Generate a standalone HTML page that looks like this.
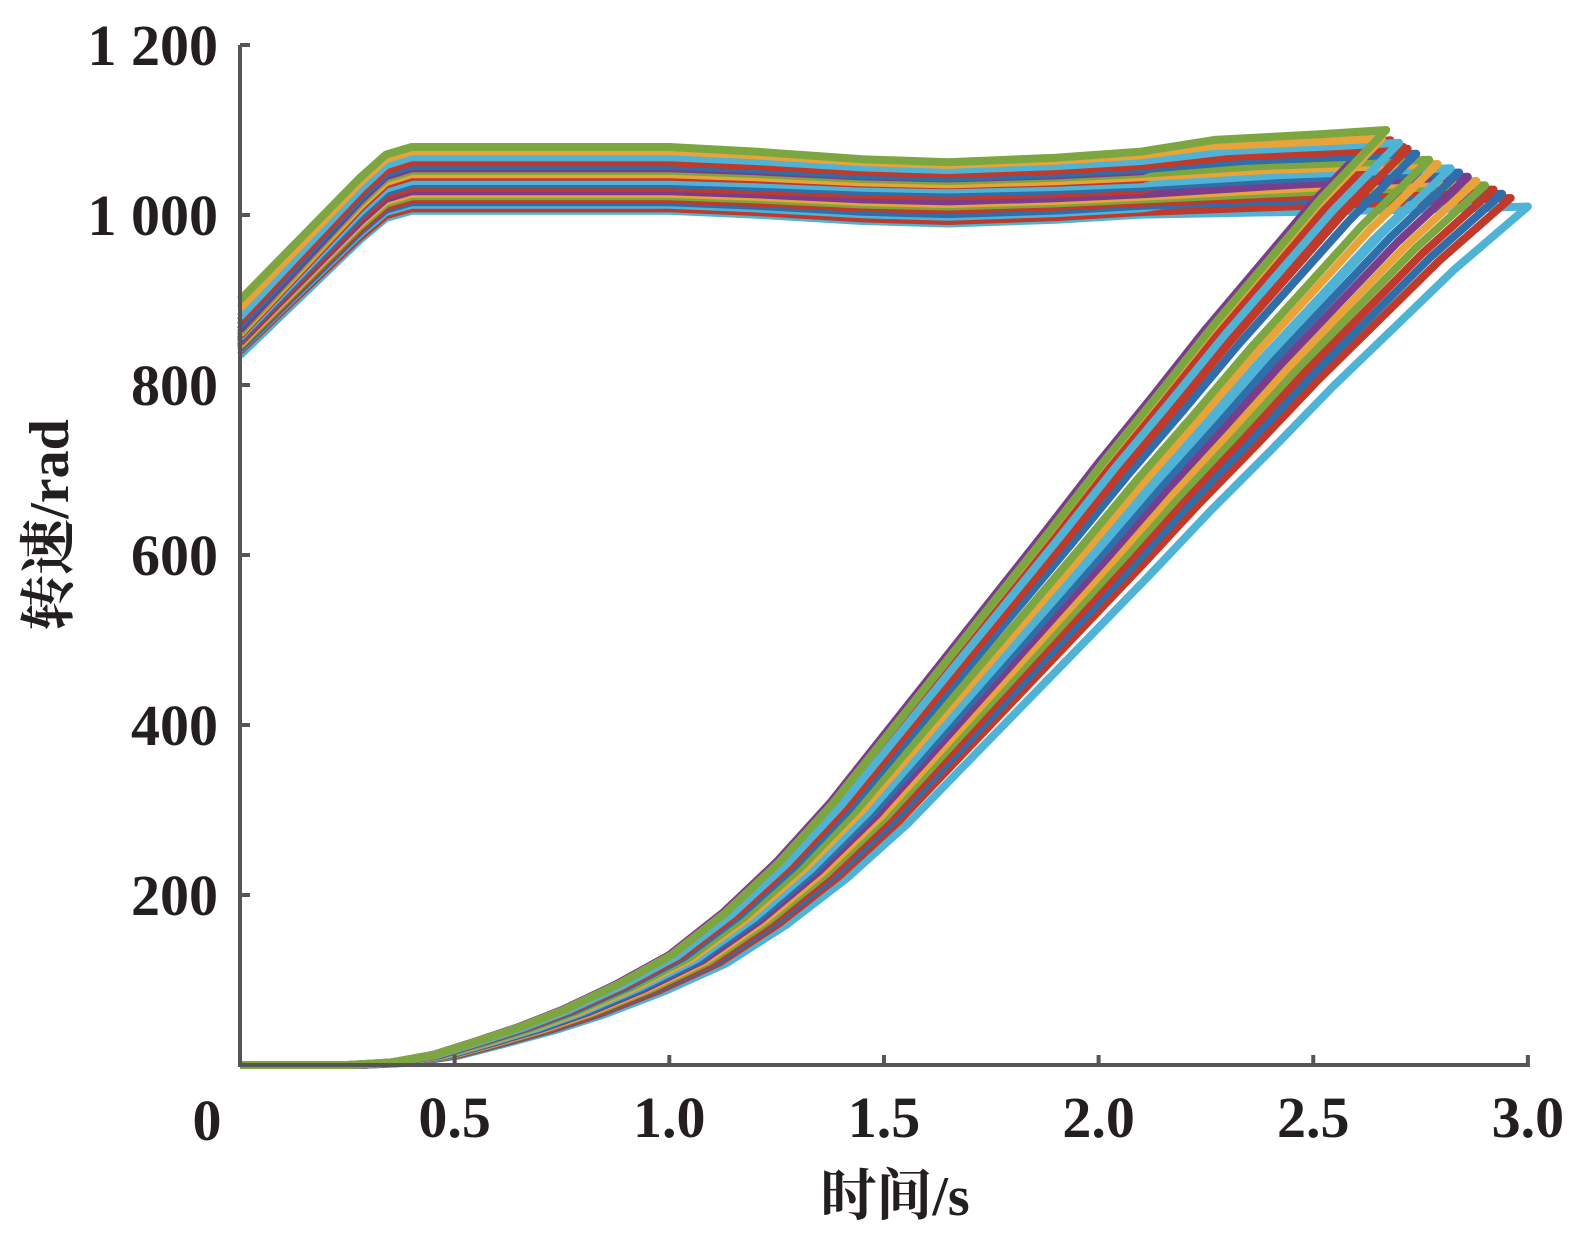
<!DOCTYPE html>
<html><head><meta charset="utf-8">
<style>
html,body{margin:0;padding:0;background:#fff;overflow:hidden;width:1587px;height:1251px;}
svg{display:block;}
text{font-family:"Liberation Serif","Noto Serif CJK SC",serif;font-weight:bold;fill:#231f20;}
</style></head>
<body>
<svg id="chart" width="1587" height="1251" viewBox="0 0 1587 1251">
<g id="series"></g>
<g id="axes"></g>
</svg>
<script>
// data
const yTicks = [0, 200, 400, 600, 800, 1000, 1200];
const yTickLabels = ["", "200", "400", "600", "800", "1 000", "1 200"];
const xTicks = [0.5, 1.0, 1.5, 2.0, 2.5, 3.0];
const xTickLabels = ["0.5", "1.0", "1.5", "2.0", "2.5", "3.0"];
const seriesColors = ["#7ca640","#e8a33a","#4fb3d6","#c0392b","#2f6ea8","#7b3c8c","#7ca640","#e8a33a","#c0392b","#4fb3d6","#2f6ea8","#c0392b","#7b3c8c","#e8a33a","#7ca640","#c0392b","#2f6ea8","#4fb3d6","#c0392b","#4fb3d6"];
const seriesStart = [900,890,880,875,870,865,862,860,858,856,854,852,850,848,846,845,843,842,840,835];
const seriesPlateau = [1080,1075,1068,1062,1058,1055,1052,1048,1045,1040,1036,1032,1028,1025,1022,1018,1015,1012,1008,1005];
const seriesDip = [-18,-16,-15,-14,-14,-12,-12,-12,-10,-10,-10,-10,-12,-12,-12,-12,-14,-14,-15,-15];
const seriesEndTime = [2.67,2.66,2.70,2.72,2.74,2.65,2.77,2.79,2.68,2.82,2.84,2.71,2.86,2.88,2.90,2.92,2.94,2.80,2.96,3.00];
const seriesEndValue = [1100,1090,1085,1078,1072,1095,1065,1060,1088,1055,1050,1080,1045,1040,1035,1030,1025,1048,1020,1010];
const lowerTimes = [0,0.25,0.35,0.45,0.55,0.65,0.75,0.875,1.0,1.125,1.25,1.375,1.5,1.625,1.75,1.875,2.0,2.125,2.25,2.375,2.5,2.65];
const lowerValues = [0,0,3,12,28,45,65,95,130,180,240,310,390,470,550,630,712,790,870,945,1020,1100];

const X0=240, XS=429.3, Y0=1065, YS=0.85;
const xs = t => X0 + t*XS;
const ys = v => Y0 - v*YS;
const NS="http://www.w3.org/2000/svg";
const gS=document.getElementById('series');
const gA=document.getElementById('axes');

for(let i=seriesColors.length-1;i>=0;i--){
  const te=seriesEndTime[i], ev=seriesEndValue[i], sc=te/2.65, vs=ev/1100;
  let d="";
  lowerTimes.forEach((t,k)=>{d+=(k?"L":"M")+xs(t*sc).toFixed(1)+","+ys(lowerValues[k]*vs).toFixed(1);});
  const P=seriesPlateau[i], dp=seriesDip[i], S=seriesStart[i];
  const up=[[te,ev],[te-0.15,P+dp*0.1+(ev-P)*0.85],[te-0.4,P+dp*0.2+(ev-P)*0.6],[2.1,P+dp*0.3],[1.9,P+dp*0.7],[1.65,P+dp],[1.45,P+dp*0.8],[1.2,P+dp*0.3],[1.0,P],[0.4,P],[0.34,P-(P-S)*0.05],[0.28,P-(P-S)*0.2],[0,S]];
  up.forEach(p=>{d+="L"+xs(p[0]).toFixed(1)+","+ys(p[1]).toFixed(1);});
  const p=document.createElementNS(NS,'path');
  p.setAttribute('d',d);p.setAttribute('fill','none');p.setAttribute('stroke',seriesColors[i]);p.setAttribute('stroke-width','8');p.setAttribute('stroke-linejoin','round');
  
  
  gS.appendChild(p);
}

function line(x1,y1,x2,y2,name){
  const l=document.createElementNS(NS,'line');
  l.setAttribute('x1',x1);l.setAttribute('y1',y1);l.setAttribute('x2',x2);l.setAttribute('y2',y2);
  l.setAttribute('stroke','#555');l.setAttribute('stroke-width','4');
  
  
  gA.appendChild(l);
}
function text(x,y,s,anchor,name,size){
  const t=document.createElementNS(NS,'text');
  t.setAttribute('x',x);t.setAttribute('y',y);t.setAttribute('text-anchor',anchor);t.setAttribute('font-size',size||58);
  t.textContent=s;
  
  
  gA.appendChild(t);
  return t;
}
line(X0,ys(1200),X0,Y0+2,'y-axis-line');
line(X0-2,Y0,xs(3.0)+2,Y0,'x-axis-line');
yTicks.forEach((v,k)=>{
  if(v>0){line(X0,ys(v),X0+10,ys(v),'y-tick');}
  if(yTickLabels[k]) text(218,ys(v)+20,yTickLabels[k],'end','y-tick-label');
});
xTicks.forEach((v,k)=>{
  line(xs(v),Y0-10,xs(v),Y0,'x-tick');
  text(xs(v),1137,xTickLabels[k],'middle','x-tick-label');
});
text(207,1140,"0",'middle','origin-label');
text(895,1215,"时间/s",'middle','x-axis-title',56);
const yt=text(0,0,"转速/rad",'middle','y-axis-title',56);
yt.setAttribute('transform','translate(68,525) rotate(-90)');
</script>
</body></html>
